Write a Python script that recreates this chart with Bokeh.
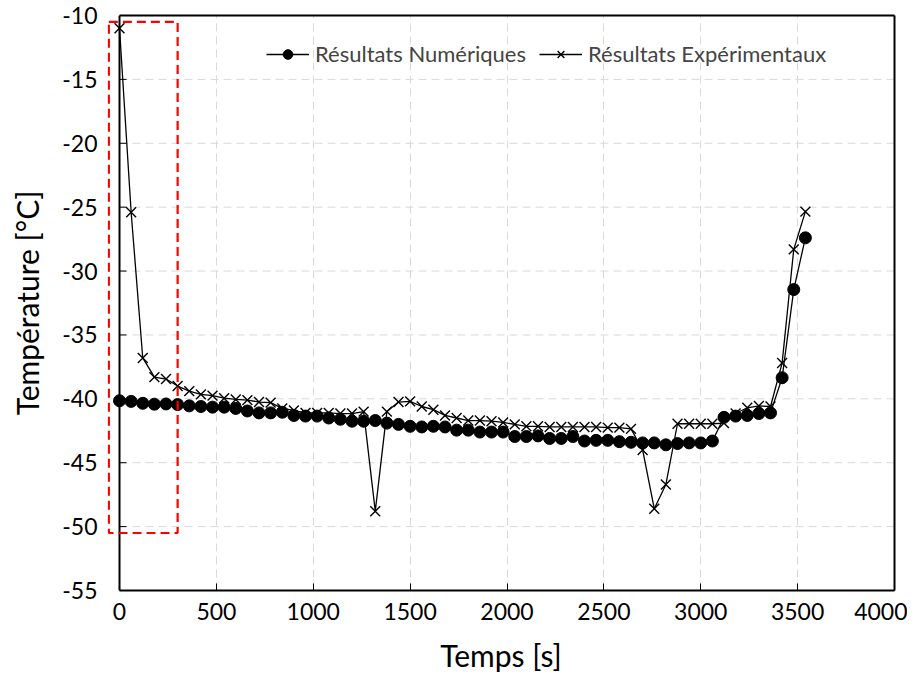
from bokeh.plotting import figure
from bokeh.models import Range1d, FixedTicker, BoxAnnotation, Legend, LegendItem, LinearAxis, Span
from bokeh.embed import file_html
from bokeh.resources import INLINE

# time [s]
temps = [0, 60, 120, 180, 240, 300, 360, 420, 480, 540, 600, 660, 720, 780, 840, 900,
         960, 1020, 1080, 1140, 1200, 1260, 1320, 1380, 1440, 1500, 1560, 1620, 1680,
         1740, 1800, 1860, 1920, 1980, 2040, 2100, 2160, 2220, 2280, 2340, 2400, 2460,
         2520, 2580, 2640, 2700, 2760, 2820, 2880, 2940, 3000, 3060, 3120, 3180, 3240,
         3300, 3360, 3420, 3480, 3540]

numeriques = [-40.15, -40.2, -40.35, -40.42, -40.4, -40.45, -40.55, -40.6, -40.65, -40.65,
              -40.75, -40.95, -41.1, -41.1, -41.05, -41.3, -41.35, -41.35, -41.5, -41.6,
              -41.75, -41.75, -41.7, -41.9, -42.0, -42.15, -42.2, -42.15, -42.2, -42.45,
              -42.45, -42.6, -42.6, -42.6, -42.95, -42.95, -42.9, -43.1, -43.1, -42.95,
              -43.3, -43.25, -43.25, -43.35, -43.4, -43.45, -43.45, -43.6, -43.5, -43.45,
              -43.45, -43.3, -41.45, -41.35, -41.3, -41.15, -41.1, -38.35, -31.45, -27.4]

experimentaux = [-11.0, -25.4, -36.8, -38.3, -38.45, -39.0, -39.4, -39.65, -39.75, -39.95,
                 -40.05, -40.1, -40.25, -40.3, -40.75, -40.9, -41.1, -41.1, -41.1, -41.15,
                 -41.15, -41.0, -48.8, -41.0, -40.25, -40.2, -40.6, -40.85, -41.3, -41.5,
                 -41.7, -41.7, -41.75, -41.85, -42.0, -42.15, -42.15, -42.2, -42.2, -42.2,
                 -42.2, -42.2, -42.25, -42.25, -42.35, -44.0, -48.6, -46.7, -41.95, -41.95,
                 -41.95, -41.95, -41.9, -41.15, -40.7, -40.55, -40.6, -37.2, -28.3, -25.35]

x_ticks = [0, 500, 1000, 1500, 2000, 2500, 3000, 3500, 4000]
y_ticks = [-55, -50, -45, -40, -35, -30, -25, -20, -15, -10]
x_min, x_max = 0, 4000
y_min, y_max = -55, -10

# zoomed region (red dashed box)
zone = dict(left=-55, right=300, top=-10.5, bottom=-50.5)

FONT = "Lato"

p = figure(width=907, height=680, output_backend="svg", toolbar_location=None,
           x_range=Range1d(-62, x_max), y_range=Range1d(y_min, y_max),
           min_border_left=107, min_border_right=13, min_border_top=15, min_border_bottom=90)

p.outline_line_color = None
p.background_fill_color = "white"
p.border_fill_color = "white"


def style_axis(ax):
    ax.axis_line_color = "black"
    ax.axis_line_width = 2
    ax.major_tick_in = 7
    ax.major_tick_out = 0
    ax.major_tick_line_color = "black"
    ax.major_tick_line_width = 1
    ax.minor_tick_line_color = None
    ax.major_label_text_font = FONT
    ax.major_label_text_font_size = "23px"
    ax.major_label_text_color = "black"
    ax.axis_label_text_font = FONT
    ax.axis_label_text_font_size = "30px"
    ax.axis_label_text_font_style = "normal"
    ax.axis_label_text_color = "black"


xa = p.xaxis[0]
ya = p.yaxis[0]
style_axis(xa)
style_axis(ya)

xa.ticker = FixedTicker(ticks=x_ticks)
ya.ticker = FixedTicker(ticks=y_ticks)
xa.bounds = (x_min, x_max)
xa.major_label_overrides = {v: str(v) for v in x_ticks}
ya.major_label_overrides = {v: str(v) for v in y_ticks}
xa.axis_label = "Temps [s]"
ya.axis_label = "Température [°C]"
xa.major_label_standoff = 12
xa.axis_label_standoff = 14
# left axis only carries the labels; its spine is drawn at x = 0 below
ya.axis_line_color = None
ya.major_tick_line_color = None
ya.major_tick_in = 0
ya.major_label_standoff = 10
ya.axis_label_standoff = 14

# left spine at x = 0 with inward ticks
p.add_layout(Span(location=x_min, dimension="height", line_color="black", line_width=2))
p.ray(x=[x_min] * len(y_ticks), y=y_ticks, length=7, length_units="screen", angle=0,
      line_color="black", line_width=1)

# top and right frame edges
for loc in ("above", "right"):
    ax = LinearAxis(ticker=FixedTicker(ticks=[]), axis_line_color="black", axis_line_width=2,
                    major_tick_line_color=None, minor_tick_line_color=None,
                    major_label_text_font_size="0px")
    if loc == "above":
        ax.bounds = (x_min, x_max)
    p.add_layout(ax, loc)

# grid
p.ygrid.grid_line_color = None
p.xgrid.grid_line_color = "#d9d9d9"
p.xgrid.grid_line_dash = "8 5"
p.xgrid.grid_line_width = 1
inner_y = [v for v in y_ticks if y_min < v < y_max]
p.segment(x0=[x_min] * len(inner_y), x1=[x_max] * len(inner_y), y0=inner_y, y1=inner_y,
          line_color="#d9d9d9", line_dash="8 5", line_width=1, level="underlay")

l1 = p.line(temps, numeriques, line_color="black", line_width=1.3)
c1 = p.scatter(temps, numeriques, marker="circle", size=12, fill_color="black", line_color="black")
l2 = p.line(temps, experimentaux, line_color="black", line_width=1.3)
c2 = p.scatter(temps, experimentaux, marker="x", size=14, line_color="black", line_width=1.4)

box = BoxAnnotation(left=zone["left"], right=zone["right"], top=zone["top"], bottom=zone["bottom"],
                    fill_alpha=0, line_color="#ff0000", line_alpha=1.0, line_width=2.2,
                    line_dash="9 5")
p.add_layout(box)

legend = Legend(items=[LegendItem(label="Résultats Numériques", renderers=[l1, c1]),
                       LegendItem(label="Résultats Expérimentaux", renderers=[l2, c2])],
                orientation="horizontal", location=(159, 523),
                label_text_font=FONT, label_text_font_size="22px",
                glyph_width=43, glyph_height=24, spacing=13, padding=0, margin=0,
                border_line_color=None, background_fill_alpha=0, label_standoff=6)
p.add_layout(legend, "center")

open("out.html", "w").write(file_html(p, INLINE))
